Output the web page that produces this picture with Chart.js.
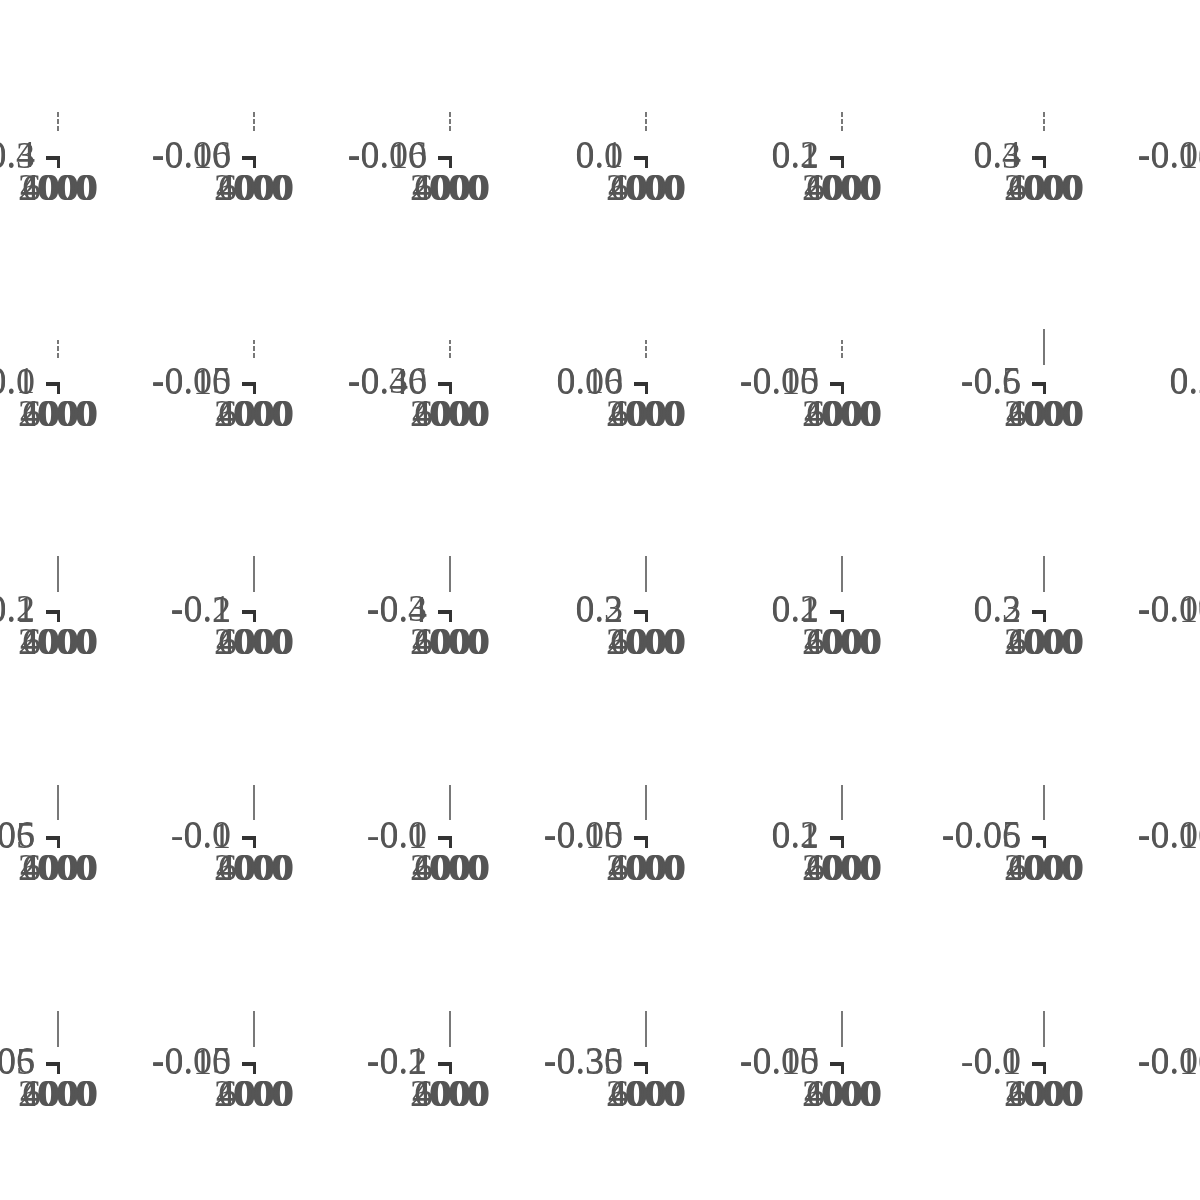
<!DOCTYPE html>
<html><head><meta charset="utf-8">
<script src="https://cdn.jsdelivr.net/npm/chart.js@4"></script>
<style>
html,body{margin:0;padding:0;background:#fff;overflow:hidden;width:1200px;height:1200px;}
#wrap{position:relative;width:1200px;height:1200px;overflow:hidden;background:#fff;}
#wrap canvas{position:absolute;}
#probe{position:absolute;left:-2000px;top:0;font-family:"Liberation Serif";font-size:38px;}
</style></head><body><div id="wrap"></div><div id="probe">-0.0123456789</div>
<script>
// ---- data ----
const xTicks = [2000, 4000, 6000];
const xRange = [0, 8000];
const SERIES_X = 6000;

const row1Ticks = [["0.3","0.4"],["-0.10","-0.06"],["-0.10","-0.06"],["0.0","0.1"],["0.1","0.2"],["0.3","0.4"],["-0.10","-0.08"]];
const row2Ticks = [["0.0","0.1"],["-0.10","-0.05"],["-0.40","-0.36"],["0.06","0.10"],["-0.10","-0.05"],["-0.6","-0.5"],["0.1","0.2"]];
const row3Ticks = [["0.1","0.2"],["-0.2","-0.1"],["-0.4","-0.3"],["0.2","0.3"],["0.1","0.2"],["0.2","0.3"],["-0.10","-0.09"]];
const row4Ticks = [["0.05","0.06"],["-0.1","0.0"],["-0.1","0.0"],["-0.10","-0.05"],["0.1","0.2"],["-0.06","-0.05"],["-0.10","-0.05"]];
const row5Ticks = [["0.05","0.06"],["-0.10","-0.05"],["-0.2","-0.1"],["-0.35","-0.30"],["-0.10","-0.05"],["-0.1","0.0"],["-0.10","-0.05"]];

const row1Series = [[0.31,0.34,0.37,0.39],[-0.095,-0.085,-0.075,-0.065],[-0.098,-0.09,-0.08,-0.07],[0.01,0.03,0.06,0.09],[0.11,0.13,0.16,0.19],[0.31,0.33,0.36,0.38],[-0.095,-0.09,-0.085,-0.082]];
const row2Series = [[0.01,0.04,0.06,0.09],[-0.09,-0.08,-0.07,-0.06],[-0.39,-0.38,-0.37,-0.365],[0.065,0.075,0.085,0.095],[-0.095,-0.08,-0.07,-0.055],[-0.58,-0.52,-0.56,-0.51,-0.55],[0.12,0.15,0.18]];
const row3Series = [[0.14,0.11,0.18,0.13,0.19],[-0.18,-0.12,-0.15,-0.11],[-0.38,-0.33,-0.36,-0.31],[0.22,0.28,0.25,0.29],[0.12,0.18,0.15,0.19],[0.21,0.27,0.24,0.29],[-0.098,-0.093,-0.096,-0.091]];
const row4Series = [[0.052,0.058,0.055,0.059],[-0.08,-0.03,-0.06,-0.01],[-0.09,-0.04,-0.07,-0.02],[-0.09,-0.06,-0.08,-0.055],[0.12,0.17,0.14,0.19],[-0.059,-0.053,-0.057,-0.051],[-0.09,-0.06,-0.08,-0.055]];
const row5Series = [[0.051,0.057,0.054,0.059],[-0.09,-0.06,-0.08,-0.055],[-0.19,-0.13,-0.16,-0.11],[-0.34,-0.31,-0.33,-0.305],[-0.095,-0.06,-0.08,-0.052],[-0.09,-0.02,-0.06,-0.01],[-0.09,-0.06,-0.08,-0.055]];

// ---- layout & style ----
const allTicks = [row1Ticks,row2Ticks,row3Ticks,row4Ticks,row5Ticks];
const allSeries = [row1Series,row2Series,row3Series,row4Series,row5Series];
const colAnchorX = [60, 256, 452, 648, 844, 1046, 1242];
const rowAnchorY = [158, 384, 612, 838, 1064];
const rowSpan = [[27,46],[26,44],[20,56],[18,53],[17,53]];
function isDashed(r,c){ return (r===0) || (r===1 && c!==5); }
function spanFor(r,c){ return (r===1 && c===5) ? [19,55] : rowSpan[r]; }

const CW = 270, CH = 240, AX = 160, AY = 150, YW = 150;
const FONT = {family:'"Liberation Serif", "Times New Roman", Times, serif', size:38};
const wrap = document.getElementById('wrap');

function build() {
for (let r = 0; r < allTicks.length; r++) {
  for (let c = 0; c < allTicks[r].length; c++) {
    const labels = allTicks[r][c];
    const ticksY = labels.map(Number);
    const series = allSeries[r][c];
    const lo = Math.min(...series), hi = Math.max(...series);
    const [bot, top] = spanFor(r,c);
    const R = (hi - lo) / (top - bot);
    const vMin = lo - bot * R;

    const cv = document.createElement('canvas');
    cv.width = CW; cv.height = CH;
    cv.style.width = CW + 'px'; cv.style.height = CH + 'px';
    cv.style.left = (colAnchorX[c] - AX) + 'px';
    cv.style.top = (rowAnchorY[r] - AY) + 'px';
    wrap.appendChild(cv);

    new Chart(cv, {
      type: 'line',
      data: { datasets: [{
        data: series.map(v => ({x: SERIES_X, y: v})),
        yAxisID: 'yv',
        borderColor: '#1e1e1e', borderWidth: 1.2,
        borderDash: isDashed(r,c) ? [5,2] : [],
        pointRadius: 0, fill: false, clip: false, tension: 0
      }]},
      options: {
        responsive: false, animation: false, devicePixelRatio: 1, events: [],
        font: FONT,
        layout: { padding: { left: AX - 8 - YW, right: CW - AX, top: AY - 1, bottom: 10 } },
        plugins: { legend: {display:false}, tooltip: {enabled:false}, title:{display:false} },
        scales: {
          x: {
            type: 'linear', position: 'bottom',
            min: xRange[0], max: xRange[1],
            afterBuildTicks: s => { s.ticks = xTicks.map(v => ({value: v})); },
            afterFit: s => { s.height = CH - AY - 10; },
            ticks: { autoSkip:false, maxRotation:0, minRotation:0, padding:-1, color:'#555', font:FONT,
                     align:'start', labelOffset:-36, callback: v => String(v) },
            grid: { drawOnChartArea:false, tickLength:10, lineWidth:3,
                    color: ctx => (ctx.index === xTicks.length-1 ? '#333' : 'rgba(0,0,0,0)') },
            border: { display:false }
          },
          y: {
            type: 'linear', position: 'left',
            min: ticksY[0], max: ticksY[ticksY.length-1],
            afterBuildTicks: s => { s.ticks = ticksY.map(v => ({value: v})); },
            afterFit: s => { s.width = YW; },
            ticks: { autoSkip:false, padding:11, color:'#555', font:FONT,
                     callback: (v, i) => labels[i] },
            grid: { drawOnChartArea:true, tickLength:6, lineWidth:3, color:'#333' },
            border: { display:false }
          },
          yv: { type:'linear', display:false, min: vMin, max: vMin + R }
        }
      }
    });
  }
}
}

Chart.defaults.font.family = FONT.family;
let built = false;
function go(){ if (built) return; built = true; build(); }
if (document.fonts && document.fonts.load) {
  document.fonts.load('38px "Liberation Serif"').then(go, go);
  setTimeout(go, 800);
} else { go(); }
</script>
</body></html>
